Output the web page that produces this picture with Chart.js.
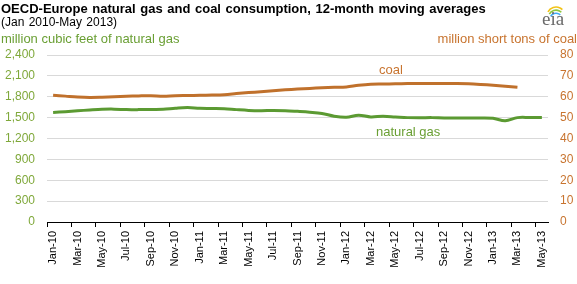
<!DOCTYPE html>
<html>
<head>
<meta charset="utf-8">
<script src="https://cdn.jsdelivr.net/npm/chart.js"></script>
<style>
body{margin:0;background:#fff;font-family:Arial,"Liberation Sans",sans-serif;}
#wrap{position:relative;width:577px;height:284px;}
.t{position:absolute;white-space:nowrap;line-height:1;}
</style>
</head>
<body>
<div id="wrap">
<canvas id="main"></canvas>
<div class="t" style="left:1px;top:2px;font-weight:bold;font-size:13px;word-spacing:1px;color:#000;">OECD-Europe natural gas and coal consumption, 12-month moving averages</div>
<div class="t" style="left:1px;top:16px;font-size:12px;word-spacing:1px;color:#000;">(Jan 2010-May 2013)</div>
<div class="t" style="left:1px;top:32px;font-size:13px;color:#6a9f34;">million cubic feet of natural gas</div>
<div class="t" style="right:0px;top:32px;font-size:13px;color:#c8742f;">million short tons of coal</div>
<div class="t" style="left:379px;top:63px;font-size:13px;color:#c8742f;">coal</div>
<div class="t" style="left:376px;top:125px;font-size:13px;color:#6a9f34;">natural gas</div>
<div class="t" style="left:542px;top:9px;font-size:19px;color:#6b6b6b;font-family:'Liberation Serif','DejaVu Serif',serif;">eia</div>
</div>
<script>
// months, Jan-10 .. May-13
const months = ['Jan-10','Feb-10','Mar-10','Apr-10','May-10','Jun-10','Jul-10','Aug-10','Sep-10','Oct-10','Nov-10','Dec-10',
  'Jan-11','Feb-11','Mar-11','Apr-11','May-11','Jun-11','Jul-11','Aug-11','Sep-11','Oct-11','Nov-11','Dec-11',
  'Jan-12','Feb-12','Mar-12','Apr-12','May-12','Jun-12','Jul-12','Aug-12','Sep-12','Oct-12','Nov-12','Dec-12',
  'Jan-13','Feb-13','Mar-13','Apr-13','May-13'];

// natural gas, million cubic feet (left axis)
const gas = [1575,1585,1598,1610,1620,1622,1615,1615,1618,1620,1635,1645,
  1635,1632,1628,1615,1604,1600,1602,1600,1590,1578,1560,1520,
  1505,1535,1510,1520,1510,1500,1498,1500,1495,1495,1495,1495,
  1490,1455,1500,1502,1502];

// coal, million short tons (right axis) - ends Mar-13
const coal = [60.7,60.3,59.9,59.7,59.8,60.0,60.2,60.4,60.5,60.2,60.5,60.6,
  60.7,60.8,61.0,61.5,62.0,62.4,62.9,63.3,63.7,64.0,64.3,64.5,
  64.7,65.5,66.0,66.1,66.2,66.3,66.3,66.3,66.3,66.3,66.2,65.9,
  65.5,65.0,64.5,null,null];

const gasTicks = [0,300,600,900,1200,1500,1800,2100,2400];
const coalTicks = [0,10,20,30,40,50,60,70,80];

const gasColor = '#5b9a32';
const coalColor = '#c0712c';
const gasText = '#7fa83a';
const coalText = '#c8742f';

// little eia swoosh
const logo = {
  id: 'logo',
  afterDraw(chart){
    const c = chart.ctx;
    c.save();
    const arcs = [['#f2c318',9],['#8cc63f',7.5],['#3fa9f5',6]];
    arcs.forEach((a,i) => {
      c.beginPath();
      c.strokeStyle = a[0];
      c.lineWidth = 1.6;
      c.arc(556, 16 + i*1.6, a[1], Math.PI*1.15, Math.PI*1.75);
      c.stroke();
    });
    c.restore();
  }
};

new Chart(document.getElementById('main'), {
  type: 'line',
  data: {
    labels: months,
    datasets: [
      {label: 'coal', data: coal, yAxisID: 'y1', borderColor: coalColor, borderWidth: 3, pointRadius: 0, tension: 0.35, spanGaps: false},
      {label: 'natural gas', data: gas, yAxisID: 'y', borderColor: gasColor, borderWidth: 3, pointRadius: 0, tension: 0.35}
    ]
  },
  options: {
    responsive: true,
    maintainAspectRatio: false,
    animation: false,
    layout: {padding: {top: 55, left: 0, right: 0, bottom: 0}},
    plugins: {legend: {display: false}, tooltip: {enabled: false}},
    scales: {
      x: {
        offset: true,
        afterFit: s => { s.height = 62; },
        grid: {
          offset: true,
          drawOnChartArea: false,
          drawTicks: true,
          tickLength: 5,
          color: c => (c.index !== undefined && c.index % 2 === 0) ? '#000' : 'rgba(0,0,0,0)'
        },
        border: {display: true, color: '#000', width: 1},
        ticks: {
          autoSkip: false,
          maxRotation: 90,
          minRotation: 90,
          padding: 4,
          color: '#000',
          font: {family: 'Arial, "Liberation Sans"', size: 11},
          callback: (v, i) => i % 2 === 0 ? months[i] : ''
        }
      },
      y: {
        position: 'left',
        min: 0, max: 2400,
        afterFit: s => { s.width = 47; },
        afterBuildTicks: s => { s.ticks = gasTicks.map(v => ({value: v})); },
        grid: {color: '#d9d9d9', lineWidth: 1, drawTicks: false},
        border: {display: false},
        ticks: {
          padding: 12,
          color: gasText,
          font: {family: 'Arial, "Liberation Sans"', size: 12},
          callback: v => v.toLocaleString('en-US')
        }
      },
      y1: {
        position: 'right',
        min: 0, max: 80,
        afterFit: s => { s.width = 29; },
        afterBuildTicks: s => { s.ticks = coalTicks.map(v => ({value: v})); },
        grid: {drawOnChartArea: false, drawTicks: false},
        border: {display: false},
        ticks: {
          padding: 12,
          color: coalText,
          font: {family: 'Arial, "Liberation Sans"', size: 12}
        }
      }
    }
  },
  plugins: [logo]
});
</script>
</body>
</html>
